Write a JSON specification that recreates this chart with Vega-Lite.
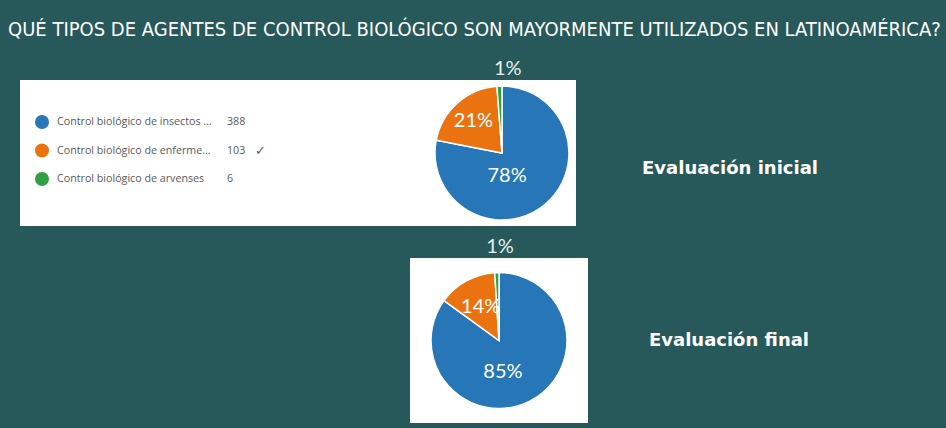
{
  "$schema": "https://vega.github.io/schema/vega-lite/v6.json",
  "background": "#27585a",
  "padding": {"left": 8, "top": 20, "right": 0, "bottom": 5},
  "title": {
    "text": "QUÉ TIPOS DE AGENTES DE CONTROL BIOLÓGICO SON MAYORMENTE UTILIZADOS EN  LATINOAMÉRICA?",
    "anchor": "start",
    "dx": -12,
    "fontSize": 20,
    "font": "'Liberation Sans Narrow', 'DejaVu Sans Condensed', sans-serif",
    "fontWeight": "normal",
    "color": "white",
    "offset": 19
  },
  "datasets": {
    "inicial": [
      {"categoria": "Control biológico de insectos ...", "orden": 1, "respuestas": 388, "porcentaje": 0.78, "marca": ""},
      {"categoria": "Control biológico de enferme...", "orden": 2, "respuestas": 103, "porcentaje": 0.21, "marca": "✓"},
      {"categoria": "Control biológico de arvenses", "orden": 3, "respuestas": 6, "porcentaje": 0.01, "marca": ""}
    ],
    "final": [
      {"categoria": "Control biológico de insectos ...", "orden": 1, "porcentaje": 0.85},
      {"categoria": "Control biológico de enferme...", "orden": 2, "porcentaje": 0.14},
      {"categoria": "Control biológico de arvenses", "orden": 3, "porcentaje": 0.01}
    ]
  },
  "spacing": 8,
  "vconcat": [
    {
      "spacing": 0,
      "hconcat": [
        {
          "width": 408,
          "height": 146,
          "view": {"fill": "white", "stroke": null},
          "data": {"name": "inicial"},
          "encoding": {
            "y": {"field": "categoria", "type": "nominal", "sort": {"field": "orden", "op": "min"}, "scale": {"type": "point", "range": [42, 99], "padding": 0}, "axis": null}
          },
          "layer": [
            {
              "mark": {"type": "point", "filled": true, "opacity": 1, "size": 196, "shape": "circle"},
              "encoding": {
                "x": {"value": 22},
                "color": {"field": "categoria", "type": "nominal", "scale": {"domain": ["Control biológico de insectos ...", "Control biológico de enferme...", "Control biológico de arvenses"], "range": ["#2676b8", "#ea7310", "#2ea043"]}, "legend": null}
              }
            },
            {
              "mark": {"type": "text", "align": "left", "baseline": "middle", "font": "Open Sans", "fontSize": 10.7, "color": "#5a5a5a"},
              "encoding": {"x": {"value": 37}, "text": {"field": "categoria", "type": "nominal"}}
            },
            {
              "mark": {"type": "text", "align": "left", "baseline": "middle", "font": "Open Sans", "fontSize": 10.7, "color": "#5a5a5a"},
              "encoding": {"x": {"value": 207}, "text": {"field": "respuestas", "type": "quantitative"}}
            },
            {
              "mark": {"type": "text", "align": "left", "baseline": "middle", "font": "DejaVu Sans", "fontSize": 13, "color": "#5a5a5a"},
              "encoding": {"x": {"value": 235}, "text": {"field": "marca", "type": "nominal"}}
            }
          ]
        },
        {
          "width": 148,
          "height": 146,
          "view": {"fill": "white", "stroke": null},
          "data": {"name": "inicial"},
          "encoding": {
            "theta": {"field": "respuestas", "type": "quantitative", "stack": true},
            "order": {"field": "orden", "type": "quantitative"}
          },
          "layer": [
            {
              "mark": {"type": "arc", "outerRadius": 67, "stroke": "white", "strokeWidth": 1.5},
              "encoding": {
                "color": {"field": "categoria", "type": "nominal", "scale": {"domain": ["Control biológico de insectos ...", "Control biológico de enferme...", "Control biológico de arvenses"], "range": ["#2676b8", "#ea7310", "#2ea043"]}, "legend": null}
              }
            },
            {
              "mark": {"type": "text", "radius": 30, "dx": -14, "font": "Lato", "fontSize": 20, "color": "white"},
              "encoding": {"text": {"condition": {"test": "datum.orden == 1", "field": "porcentaje", "type": "quantitative", "format": ".0%"}, "value": ""}}
            },
            {
              "mark": {"type": "text", "radius": 43, "font": "Lato", "fontSize": 20, "color": "white"},
              "encoding": {"text": {"condition": {"test": "datum.orden == 2", "field": "porcentaje", "type": "quantitative", "format": ".0%"}, "value": ""}}
            },
            {
              "mark": {"type": "text", "radius": 84, "dx": 9, "font": "Lato", "fontSize": 20, "color": "#e4f1ee"},
              "encoding": {"text": {"condition": {"test": "datum.orden == 3", "field": "porcentaje", "type": "quantitative", "format": ".0%"}, "value": ""}}
            }
          ]
        },
        {
          "width": 370,
          "height": 146,
          "data": {"values": [{"evaluacion": "Evaluación inicial"}]},
          "mark": {"type": "text", "font": "DejaVu Sans", "fontWeight": "bold", "fontSize": 18, "color": "white", "dx": -31, "dy": 16},
          "encoding": {"text": {"field": "evaluacion", "type": "nominal"}}
        }
      ]
    },
    {
      "spacing": 0,
      "hconcat": [
        {
          "width": 390,
          "height": 165,
          "data": {"values": [{"vacio": ""}]},
          "mark": {"type": "text"},
          "encoding": {"text": {"field": "vacio", "type": "nominal"}}
        },
        {
          "width": 178,
          "height": 165,
          "view": {"fill": "white", "stroke": null},
          "data": {"name": "final"},
          "encoding": {
            "theta": {"field": "porcentaje", "type": "quantitative", "stack": true},
            "order": {"field": "orden", "type": "quantitative"}
          },
          "layer": [
            {
              "mark": {"type": "arc", "outerRadius": 68, "stroke": "white", "strokeWidth": 1.5},
              "encoding": {
                "color": {"field": "categoria", "type": "nominal", "scale": {"domain": ["Control biológico de insectos ...", "Control biológico de enferme...", "Control biológico de arvenses"], "range": ["#2676b8", "#ea7310", "#2ea043"]}, "legend": null}
              }
            },
            {
              "mark": {"type": "text", "radius": 35, "dx": -12, "font": "Lato", "fontSize": 20, "color": "white"},
              "encoding": {"text": {"condition": {"test": "datum.orden == 1", "field": "porcentaje", "type": "quantitative", "format": ".0%"}, "value": ""}}
            },
            {
              "mark": {"type": "text", "radius": 38, "font": "Lato", "fontSize": 20, "color": "white"},
              "encoding": {"text": {"condition": {"test": "datum.orden == 2", "field": "porcentaje", "type": "quantitative", "format": ".0%"}, "value": ""}}
            },
            {
              "mark": {"type": "text", "radius": 94, "dx": 4, "font": "Lato", "fontSize": 20, "color": "#e4f1ee"},
              "encoding": {"text": {"condition": {"test": "datum.orden == 3", "field": "porcentaje", "type": "quantitative", "format": ".0%"}, "value": ""}}
            }
          ]
        },
        {
          "width": 282,
          "height": 165,
          "data": {"values": [{"evaluacion": "Evaluación final"}]},
          "mark": {"type": "text", "font": "DejaVu Sans", "fontWeight": "bold", "fontSize": 18, "color": "white"},
          "encoding": {"text": {"field": "evaluacion", "type": "nominal"}}
        }
      ]
    }
  ],
  "config": {"view": {"stroke": null}}
}
